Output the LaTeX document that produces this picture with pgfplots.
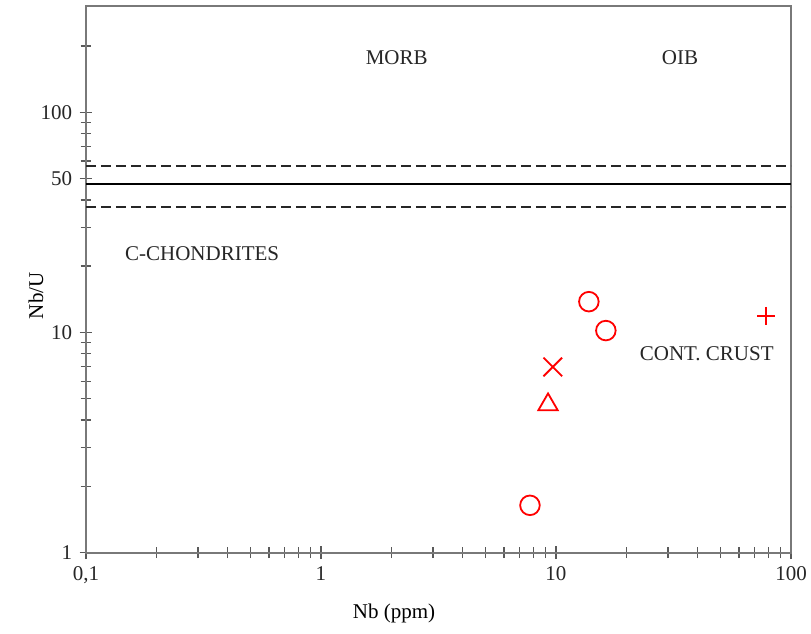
\documentclass[border=0pt]{standalone}
\usepackage{pgfplots}
\pgfplotsset{compat=1.18}
\usepackage{fontspec}
\setmainfont{Liberation Serif}
\begin{document}
\fontsize{10.5}{12.6}\selectfont
\begin{tikzpicture}
\path[use as bounding box] (-43pt,-40.65pt) rectangle (362.5pt,276.3pt);
\begin{axis}[
  at={(0,0)}, anchor=south west,
  scale only axis, width=352.5pt, height=273.3pt,
  xmode=log, ymode=log,
  xmin=0.1, xmax=100, ymin=1, ymax=304,
  axis line style={draw=gray!95!black, line width=1pt},
  every tick/.style={draw=black!65, line width=0.7pt},
  tick align=center,
  major tick length=6.5pt, minor tick length=5.5pt,
  xtick={0.1,1,10,100}, xticklabels={0{,}1,1,10,100},
  minor xtick={0.2,0.3,0.4,0.5,0.6,0.7,0.8,0.9,2,3,4,5,6,7,8,9,20,30,40,50,60,70,80,90},
  ytick={1,10,50,100}, yticklabels={1,10,50,100},
  minor ytick={2,3,4,5,6,7,8,9,20,30,40,60,70,80,90,200},
  xtick pos=bottom, ytick pos=left,
  /pgf/number format/assume math mode=true,
  ticklabel style={font=\fontsize{10.5}{12.6}\selectfont, text=black!85},
  label style={font=\fontsize{10.5}{12.6}\selectfont, text=black!85},
  xlabel={Nb (ppm)}, ylabel={Nb/U},
  every axis x label/.style={at={(axis description cs:0.437,-0.112)}, anchor=center},
  every axis y label/.style={at={(axis description cs:-0.071,0.47)}, anchor=center, rotate=90},
  clip=false,
]
\addplot[black, line width=1pt] coordinates {(0.1,47) (100,47)};
\addplot[black!85, line width=1pt, dash pattern=on 5pt off 2.5pt] coordinates {(0.1,57) (100,57)};
\addplot[black!85, line width=1pt, dash pattern=on 5pt off 2.5pt] coordinates {(0.1,37) (100,37)};
\addplot[only marks, mark=o, mark size=4.9pt, red, mark options={line width=0.9pt}] coordinates {(7.75,1.64) (13.8,13.8) (16.3,10.2)};
\addplot[only marks, mark=triangle, mark size=5.6pt, red, mark options={line width=0.9pt}] coordinates {(9.25,4.70)};
\addplot[only marks, mark=x, mark size=6.6pt, red, mark options={line width=0.9pt}] coordinates {(9.69,6.97)};
\addplot[only marks, mark=+, mark size=4.5pt, red, mark options={line width=0.9pt}] coordinates {(78.3,11.9)};
\node[text=black!85] at (axis cs:2.1,178) {MORB};
\node[text=black!85] at (axis cs:33.7,178) {OIB};
\node[text=black!85] at (axis cs:0.312,22.7) {C-CHONDRITES};
\node[text=black!85] at (axis cs:43.8,7.99) {CONT. CRUST};
\end{axis}
\end{tikzpicture}
\end{document}
